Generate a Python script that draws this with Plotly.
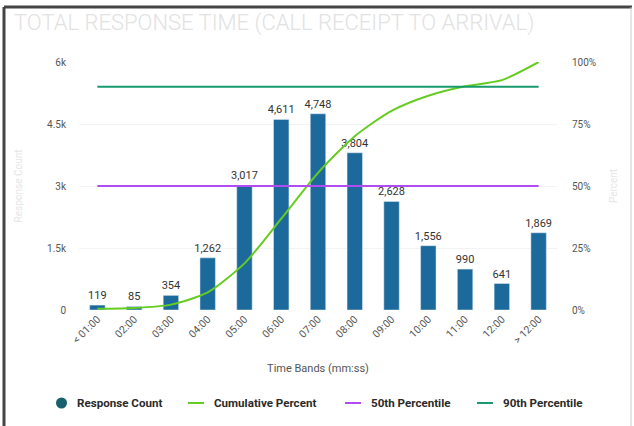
import plotly.graph_objects as go

categories = ["< 01:00", "02:00", "03:00", "04:00", "05:00", "06:00", "07:00",
              "08:00", "09:00", "10:00", "11:00", "12:00", "> 12:00"]
response_count = [119, 85, 354, 1262, 3017, 4611, 4748, 3804, 2628, 1556, 990, 641, 1869]
cumulative_pct = [0.46, 0.79, 2.17, 7.09, 18.8, 36.8, 55.3, 70.1, 80.3, 86.4, 90.2, 92.7, 100]
p50 = 50
p90 = 90
left_ticks = [0, 1500, 3000, 4500, 6000]
left_labels = ["0", "1.5k", "3k", "4.5k", "6k"]
right_ticks = [0, 25, 50, 75, 100]
right_labels = ["0%", "25%", "50%", "75%", "100%"]
series_names = ["Response Count", "Cumulative Percent", "50th Percentile", "90th Percentile"]

W, H = 634, 426
L, R, T, B = 79, 77, 62, 116
pw, ph = W - L - R, H - T - B

def px(x):
    return (x - L) / pw

def py(y):
    return (H - B - y) / ph

bar_color = "#1c6a9c"
marker_color = "#17606e"
cum_color = "#66cc22"
p50_color = "#b04cf0"
p90_color = "#189a6c"

fig = go.Figure()
fig.add_trace(go.Bar(
    x=categories, y=response_count, name=series_names[0],
    marker_color=bar_color,
    texttemplate="%{y:,}", textposition="outside", cliponaxis=False,
    constraintext="none", textangle=0,
    textfont=dict(size=11, color="#333333"),
))
fig.add_trace(go.Scatter(
    x=categories, y=cumulative_pct, name=series_names[1], yaxis="y2",
    mode="lines", line=dict(color=cum_color, width=2, shape="spline", smoothing=0.7),
))
fig.add_trace(go.Scatter(
    x=categories, y=[p50] * len(categories), name=series_names[2], yaxis="y2",
    mode="lines", line=dict(color=p50_color, width=2),
))
fig.add_trace(go.Scatter(
    x=categories, y=[p90] * len(categories), name=series_names[3], yaxis="y2",
    mode="lines", line=dict(color=p90_color, width=2),
))

font = "Roboto, Arial, sans-serif"

# custom legend (text + symbols), laid out like the reference
legend_y = py(403)
shapes = [
    dict(type="line", xref="paper", yref="paper", x0=px(4), x1=px(632),
         y0=py(7), y1=py(7), line=dict(color="#444444", width=3)),
    dict(type="line", xref="paper", yref="paper", x0=px(4), x1=px(4),
         y0=py(7), y1=py(430), line=dict(color="#444444", width=3)),
    dict(type="line", xref="paper", yref="paper", x0=px(631), x1=px(631),
         y0=py(7), y1=py(430), line=dict(color="#cccccc", width=1)),
    dict(type="circle", xref="paper", yref="paper", x0=px(56), x1=px(67),
         y0=py(408.5), y1=py(397.5), fillcolor=marker_color,
         line=dict(color=marker_color, width=0)),
]
legend_items = [
    (series_names[0], None, 75),
    (series_names[1], cum_color, 212),
    (series_names[2], p50_color, 369),
    (series_names[3], p90_color, 501),
]
annotations = []
for name, color, tx in legend_items:
    if color is not None:
        shapes.append(dict(type="line", xref="paper", yref="paper",
                           x0=px(tx - 24), x1=px(tx - 8), y0=legend_y, y1=legend_y,
                           line=dict(color=color, width=2)))
    annotations.append(dict(text=name, xref="paper", yref="paper", x=px(tx),
                            y=legend_y, xanchor="left", yanchor="middle",
                            showarrow=False,
                            font=dict(size=11.6, color="#2a2a2a", family=font,
                                      weight="bold")))

fig.update_layout(
    width=W, height=H,
    margin=dict(l=L, r=R, t=T, b=B, autoexpand=False),
    paper_bgcolor="white", plot_bgcolor="white",
    font=dict(family=font, size=10, color="#555555"),
    bargap=0.58,
    showlegend=False,
    title=dict(text="TOTAL RESPONSE TIME (CALL RECEIPT TO ARRIVAL)",
               x=14 / W, xanchor="left", y=1 - 22 / H, yanchor="middle",
               font=dict(size=22, color="#e2e2e2", family=font, weight=300)),
    xaxis=dict(tickangle=-45, showgrid=False, showline=False, ticks="",
               tickfont=dict(size=10.5, color="#555555"),
               title=dict(text="Time Bands (mm:ss)", standoff=18,
                          font=dict(size=11, color="#555555"))),
    yaxis=dict(range=[0, 6000], tickvals=left_ticks, ticktext=left_labels,
               showgrid=True, gridcolor="#f3f3f3", zeroline=False,
               showline=False, ticks="", ticklabelstandoff=12,
               title=dict(text="Response Count", standoff=22,
                          font=dict(size=10, color="#e6e6e6"))),
    yaxis2=dict(range=[0, 100], tickvals=right_ticks, ticktext=right_labels,
                overlaying="y", side="right", showgrid=False, zeroline=False,
                showline=False, ticks="", ticklabelstandoff=14,
                title=dict(text="Percent", standoff=14,
                           font=dict(size=10, color="#e6e6e6"))),
    shapes=shapes,
    annotations=annotations,
)
fig.write_html("out.html", config={"displayModeBar": False},
               post_script="document.body.style.margin='0';document.body.style.overflow='hidden';")
